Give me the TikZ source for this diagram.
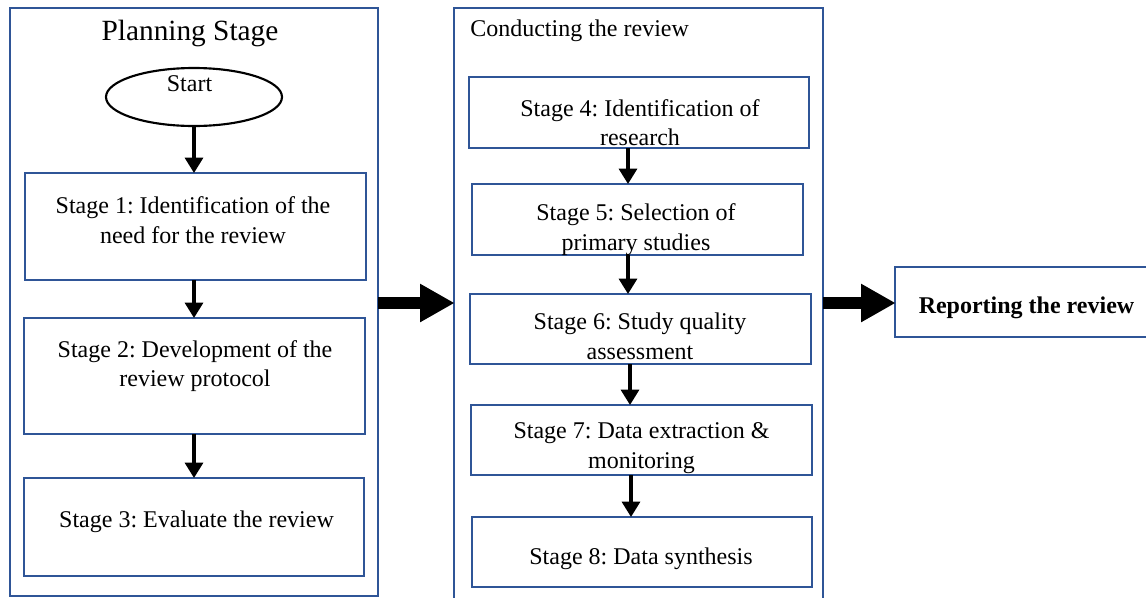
\documentclass[tikz,border=0pt]{standalone}
\usepackage{fontspec}
\setmainfont{Liberation Serif}
\usetikzlibrary{arrows.meta,shapes.geometric,fit}
\definecolor{bord}{RGB}{47,85,151}
\frenchspacing
\tikzset{
  container/.style={draw=bord, line width=1.3pt, inner sep=0pt, outer sep=0pt, fill=none},
  stagebox/.style={draw=bord, line width=1.7pt, inner sep=0pt, outer sep=0pt},
  startshape/.style={ellipse, draw=black, line width=1.6pt, inner sep=0pt, minimum width=132pt, minimum height=43.5pt},
  txt/.style={inner sep=0pt, align=center, font=\fontsize{18}{22.1}\selectfont},
  flow/.style={draw=black, line width=2.3pt, -{Triangle[length=11.5pt,width=13.5pt]}},
  bigflow/.style={draw=black, line width=8.7pt, -{Triangle[length=26pt,width=27pt]}, shorten >=-0.5pt}
}
\begin{document}
\begin{tikzpicture}[x=0.75pt, y=-0.75pt]
\useasboundingbox (0,0) rectangle (1146,597);
% containers
\node[container, fit={(10,8) (378,596)}] (plan) {};
\node[container, fit={(454,8) (823,600)}] (cond) {};
% titles
\node[inner sep=0pt, anchor=base, font=\fontsize{22}{26}\selectfont] (plantitle) at (190,40) {Planning Stage};
\node[inner sep=0pt, anchor=base west, font=\fontsize{18}{22.1}\selectfont] (condtitle) at (470,36.7) {Conducting the review};
% planning stage
\node[startshape] (start) at (194,97) {};
\node[txt, anchor=base] (starttxt) at (189.5,91) {Start};
\node[stagebox, fit={(25,173) (366,280)}] (s1) {};
\node[txt, anchor=north] (s1txt) at (193,192.7) {\strut Stage 1: Identification of the\\need for the review};
\node[stagebox, fit={(24,318) (365,434)}] (s2) {};
\node[txt, anchor=north] (s2txt) at (195,336.4) {\strut Stage 2: Development of the\\review protocol};
\node[stagebox, fit={(24,478) (364,576)}] (s3) {};
\node[txt, anchor=base] (s3txt) at (196.5,527.3) {Stage 3: Evaluate the review};
% conducting stage
\node[stagebox, fit={(469,77) (809,148)}] (s4) {};
\node[txt, anchor=north] (s4txt) at (640,95.4) {\strut Stage 4: Identification of\\research};
\node[stagebox, fit={(472,184) (803,255)}] (s5) {};
\node[txt, anchor=north] (s5txt) at (636,199.7) {\strut Stage 5: Selection of\\primary studies};
\node[stagebox, fit={(470,294) (811,364)}] (s6) {};
\node[txt, anchor=north] (s6txt) at (640,309) {\strut Stage 6: Study quality\\assessment};
\node[stagebox, fit={(471,405) (812,475)}] (s7) {};
\node[txt, anchor=north] (s7txt) at (641.5,418) {\strut Stage 7: Data extraction \&\\monitoring};
\node[stagebox, fit={(472,517) (812,587)}] (s8) {};
\node[txt, anchor=base] (s8txt) at (641,564) {Stage 8: Data synthesis};
% reporting
\node[stagebox, fit={(895,267) (1152,337)}] (rep) {};
\node[txt, anchor=base, font=\fontsize{18}{22.1}\selectfont\bfseries] (reptxt) at (1026.5,313.3) {Reporting the review};
% connector guide coordinates
\coordinate (ca) at (194,0);
\coordinate (cb) at (628,0);
\coordinate (cc) at (630,0);
\coordinate (cd) at (631,0);
\coordinate (mid) at (0,303);
% flow arrows
\draw[flow] (start.south -| ca) -- (s1.north -| ca);
\draw[flow] (s1.south -| ca) -- (s2.north -| ca);
\draw[flow] (s2.south -| ca) -- (s3.north -| ca);
\draw[flow] (s4.south -| cb) -- (s5.north -| cb);
\draw[flow] (s5.south -| cb) -- (s6.north -| cb);
\draw[flow] (s6.south -| cc) -- (s7.north -| cc);
\draw[flow] (s7.south -| cd) -- (s8.north -| cd);
% big arrows
\draw[bigflow] (plan.east |- mid) -- (cond.west |- mid);
\draw[bigflow] (cond.east |- mid) -- (rep.west |- mid);
\end{tikzpicture}
\end{document}
